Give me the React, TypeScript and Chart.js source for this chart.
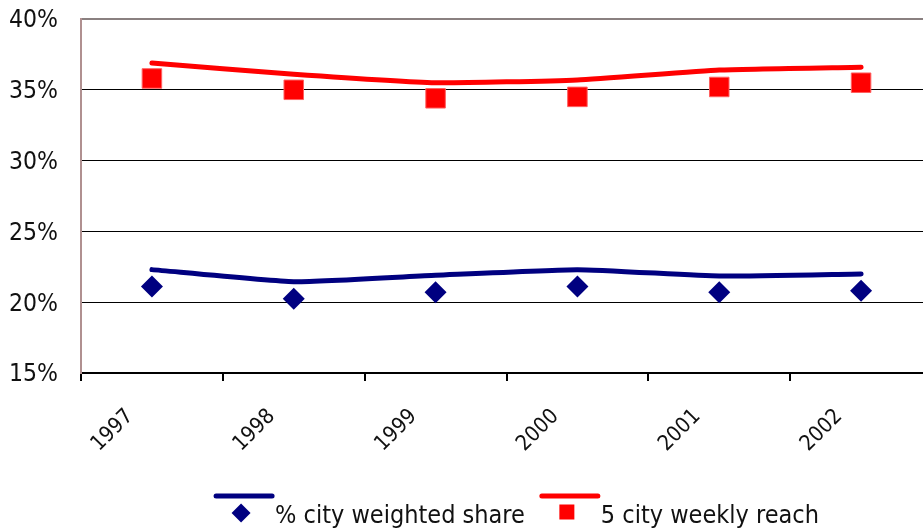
import React, { useEffect, useRef } from "react";
import { Chart, registerables } from "chart.js";

Chart.register(...registerables);

const years = ["1997", "1998", "1999", "2000", "2001", "2002"];
const shareLine = [22.3, 21.45, 21.9, 22.3, 21.85, 22.0];
const shareMarkers = [21.1, 20.25, 20.7, 21.1, 20.7, 20.8];
const reachLine = [36.9, 36.1, 35.5, 35.7, 36.4, 36.6];
const reachMarkers = [35.8, 35.0, 34.4, 34.5, 35.2, 35.5];
const seriesNames = ["% city weighted share", "5 city weekly reach"];
const seriesColors = ["#000080", "#ff0000"];
const yTicks = [15, 20, 25, 30, 35, 40];

const FONT = "'DejaVu Sans Condensed', 'Liberation Sans', sans-serif";
const CW = 935;
const CH = 528;

const legendPlugin = {
  id: "customLegend",
  afterDraw(chart: any) {
    const ctx = chart.ctx as CanvasRenderingContext2D;
    const area = chart.chartArea;
    ctx.save();
    ctx.font = `25px ${FONT}`;
    const lineLen = 60;
    const textGap = 1;
    const itemGap = 15;
    const widths = seriesNames.map((n) => lineLen + textGap + ctx.measureText(n).width);
    const total = widths.reduce((a, b) => a + b, 0) + itemGap * (seriesNames.length - 1);
    const center = (area.left + area.right) / 2 + 10;
    let x = center - total / 2;
    const lineY = chart.height - 32;
    const baseY = chart.height - 5;
    const markY = chart.height - 15;
    seriesNames.forEach((name, i) => {
      const color = seriesColors[i];
      ctx.strokeStyle = color;
      ctx.lineWidth = 5;
      ctx.lineCap = "round";
      ctx.beginPath();
      ctx.moveTo(x + 2, lineY);
      ctx.lineTo(x + lineLen - 2, lineY);
      ctx.stroke();
      ctx.fillStyle = color;
      const mx = x + 27;
      if (i === 0) {
        const r = 9.5;
        ctx.beginPath();
        ctx.moveTo(mx - r, markY);
        ctx.lineTo(mx, markY - r);
        ctx.lineTo(mx + r, markY);
        ctx.lineTo(mx, markY + r);
        ctx.closePath();
        ctx.fill();
      } else {
        const s = 15;
        ctx.fillRect(mx - s / 2, markY - s / 2 - 1, s, s);
      }
      ctx.fillStyle = "#111";
      ctx.textAlign = "left";
      ctx.textBaseline = "alphabetic";
      ctx.fillText(name, x + lineLen + textGap, baseY);
      x += widths[i] + itemGap;
    });
    ctx.restore();
  },
};

export default function App() {
  const ref = useRef<HTMLCanvasElement | null>(null);
  useEffect(() => {
    if (!ref.current) return;
    const chart = new Chart(ref.current, {
      type: "line",
      data: {
        labels: years,
        datasets: [
          {
            label: seriesNames[0] + " line",
            data: shareLine,
            borderColor: seriesColors[0],
            borderWidth: 5,
            borderCapStyle: "round",
            borderJoinStyle: "round",
            pointRadius: 0,
            tension: 0.15,
            fill: false,
          },
          {
            label: seriesNames[0],
            data: shareMarkers,
            showLine: false,
            pointStyle: "rectRot",
            pointRadius: 11,
            backgroundColor: seriesColors[0],
            borderColor: seriesColors[0],
            borderWidth: 0,
          },
          {
            label: seriesNames[1] + " line",
            data: reachLine,
            borderColor: seriesColors[1],
            borderWidth: 5,
            borderCapStyle: "round",
            borderJoinStyle: "round",
            pointRadius: 0,
            tension: 0.15,
            fill: false,
          },
          {
            label: seriesNames[1],
            data: reachMarkers,
            showLine: false,
            pointStyle: "rect",
            pointRadius: 13.8,
            backgroundColor: seriesColors[1],
            borderColor: "#ff6060",
            borderWidth: 1,
          },
        ],
      } as any,
      options: {
        responsive: false,
        maintainAspectRatio: false,
        devicePixelRatio: 1,
        animation: false,
        layout: { autoPadding: false, padding: { top: 19, right: 3, left: 0, bottom: 55 } },
        plugins: { legend: { display: false }, tooltip: { enabled: false } },
        scales: {
          x: {
            offset: true,
            grid: {
              offset: true,
              drawOnChartArea: false,
              drawTicks: true,
              tickLength: 8,
              tickColor: "#000",
              tickWidth: 2,
              color: "#000",
              lineWidth: 2,
            },
            border: { color: "#000", width: 2 },
            ticks: {
              color: "#111",
              font: { family: FONT, size: 21.5 },
              minRotation: 45,
              maxRotation: 45,
              padding: 23,
              labelOffset: -22,
              autoSkip: false,
            },
            afterFit: (s: any) => {
              s.height = 100;
              s.paddingLeft = 0;
              s.paddingRight = 0;
            },
          },
          y: {
            min: yTicks[0],
            max: yTicks[yTicks.length - 1],
            afterBuildTicks: (s: any) => {
              s.ticks = yTicks.map((v) => ({ value: v }));
            },
            grid: {
              drawTicks: false,
              color: (c: any) => (c.tick && c.tick.value === 40 ? "#8a8080" : "#000"),
              lineWidth: (c: any) => (c.tick && c.tick.value === 40 ? 2 : 1),
            },
            border: { color: "#b09090", width: 2 },
            ticks: {
              color: "#111",
              font: { family: FONT, size: 24.5 },
              padding: 23,
              labelOffset: 2,
              callback: (v: any) => v + "%",
            },
            afterFit: (s: any) => {
              s.width = 81;
              s.paddingTop = 0;
              s.paddingBottom = 0;
            },
          },
        },
      } as any,
      plugins: [legendPlugin],
    });
    return () => chart.destroy();
  }, []);
  return (
    <div
      style={{
        position: "fixed",
        left: 0,
        top: 0,
        width: 923,
        height: 528,
        overflow: "hidden",
        background: "#fff",
      }}
    >
      <div style={{ position: "absolute", left: 0, top: 0, width: CW, height: CH }}>
        <canvas
          ref={ref}
          width={CW}
          height={CH}
          style={{ display: "block", width: CW + "px", height: CH + "px" }}
        />
      </div>
    </div>
  );
}
